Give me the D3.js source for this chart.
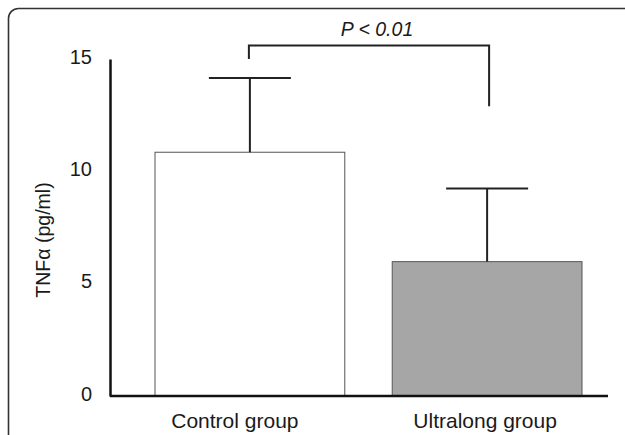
<!DOCTYPE html>
<html>
<head>
<meta charset="utf-8">
<script src="https://cdn.jsdelivr.net/npm/d3@7"></script>
<style>
  body { margin: 0; background: #fff; }
  text { font-family: Arial, "Liberation Sans", sans-serif; fill: #1a1a1a; }
</style>
</head>
<body>
<div id="chart"></div>
<script>
// data
var groups = ["Control group", "Ultralong group"];
var means = [10.85, 5.98];
var sds = [3.3, 3.26];
var barFills = ["#ffffff", "#a6a6a6"];
var yTicks = [0, 5, 10, 15];
// significance bracket: left leg bottom, bar top, right leg bottom (in pg/ml)
var bracket = [15.0, 15.6, 12.9];
var pLabel = "P < 0.01";

var width = 625, height = 435;

var svg = d3.select("#chart").append("svg")
    .attr("width", width)
    .attr("height", height);

// outer frame (runs off the right and bottom edge)
svg.append("rect")
    .attr("x", 8.5).attr("y", 8.5)
    .attr("width", 700).attr("height", 500)
    .attr("rx", 10)
    .style("fill", "none")
    .style("stroke", "#333")
    .style("stroke-width", 1.6);

var x = d3.scaleBand()
    .domain(groups)
    .range([155, 582])
    .paddingInner(0.2)
    .paddingOuter(0);

var y = d3.scaleLinear()
    .domain([0, 15])
    .range([396, 59]);

// bars
svg.selectAll(".bar")
    .data(groups)
    .enter()
    .append("rect")
    .attr("class", "bar")
    .attr("x", function(d) { return x(d); })
    .attr("y", function(d, i) { return y(means[i]); })
    .attr("width", x.bandwidth())
    .attr("height", function(d, i) { return y(0) - y(means[i]); })
    .style("fill", function(d, i) { return barFills[i]; })
    .style("stroke", "#555")
    .style("stroke-width", 1);

// error bars (upper only)
var cap = 41;
groups.forEach(function(g, i) {
    var cx = x(g) + x.bandwidth() / 2;
    svg.append("line")
        .attr("x1", cx).attr("x2", cx)
        .attr("y1", y(means[i])).attr("y2", y(means[i] + sds[i]))
        .style("stroke", "#222").style("stroke-width", 2);
    svg.append("line")
        .attr("x1", cx - cap).attr("x2", cx + cap)
        .attr("y1", y(means[i] + sds[i])).attr("y2", y(means[i] + sds[i]))
        .style("stroke", "#222").style("stroke-width", 2);
});

// axes
var yAxis = d3.axisLeft(y).tickValues(yTicks).tickSize(0).tickPadding(18);
var yg = svg.append("g")
    .attr("transform", "translate(110,0)")
    .call(yAxis);
yg.select(".domain").style("stroke", "#111").style("stroke-width", 2.5);
yg.selectAll(".tick text")
    .style("font-size", "20px")
    .attr("dy", "0.2em");

var xg = svg.append("g")
    .attr("transform", "translate(0," + y(0) + ")");
xg.append("line")
    .attr("x1", 110).attr("x2", 608)
    .attr("y1", 0).attr("y2", 0)
    .style("stroke", "#111").style("stroke-width", 2.5);
xg.selectAll(".cat")
    .data(groups)
    .enter()
    .append("text")
    .attr("class", "cat")
    .attr("x", function(d, i) { return x(d) + x.bandwidth() / 2 + (i === 0 ? -15 : -2); })
    .attr("y", 32)
    .style("text-anchor", "middle")
    .style("font-size", "21px")
    .text(function(d) { return d; });

// y label
svg.append("text")
    .attr("transform", "translate(50," + 240 + ") rotate(-90)")
    .style("text-anchor", "middle")
    .style("font-size", "19.5px")
    .text("TNFα (pg/ml)");

// significance bracket
var xl = x(groups[0]) + x.bandwidth() / 2 - 1;
var xr = x(groups[1]) + x.bandwidth() / 2 + 2;
svg.append("path")
    .attr("d", d3.line()([[xl, y(bracket[0])], [xl, y(bracket[1])], [xr, y(bracket[1])], [xr, y(bracket[2])]]))
    .style("fill", "none")
    .style("stroke", "#222")
    .style("stroke-width", 2);

svg.append("text")
    .attr("x", 377)
    .attr("y", 36)
    .style("text-anchor", "middle")
    .style("font-size", "19.5px")
    .style("font-style", "italic")
    .text(pLabel);
</script>
</body>
</html>
